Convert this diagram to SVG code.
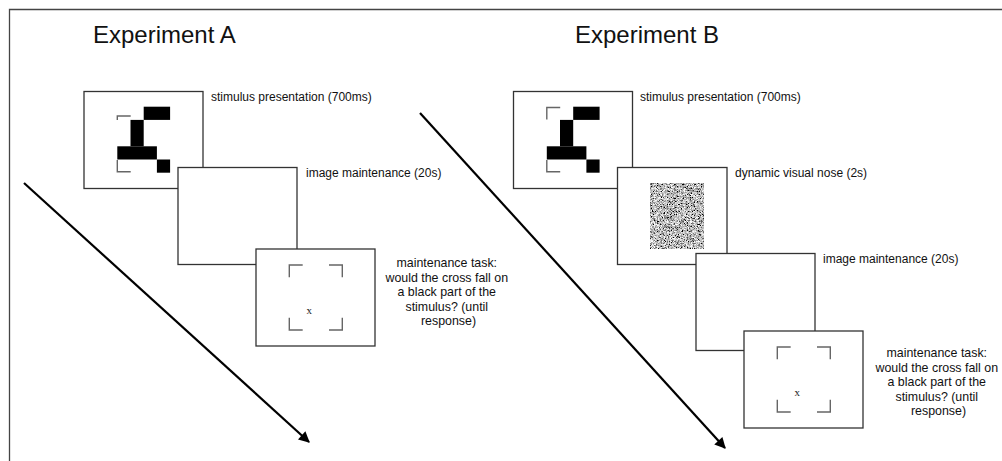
<svg xmlns="http://www.w3.org/2000/svg" width="1002" height="461" viewBox="0 0 1002 461">
<style>
.frame{fill:#fff;stroke:#333;stroke-width:1.3}
.cell{fill:#000}
.br{fill:none;stroke:#666;stroke-width:1.4}
.lbl{font-family:"Liberation Sans",Arial,sans-serif;font-size:12px;fill:#111}
.multi{font-family:"Liberation Sans",Arial,sans-serif;font-size:12.4px;fill:#111;text-anchor:middle}
.ttl{font-family:"Liberation Sans",Arial,sans-serif;font-size:24px;fill:#111}
.x{font-family:"Liberation Serif","Times New Roman",serif;font-size:11px;fill:#222;text-anchor:middle}
.arrow{stroke:#000;stroke-width:2.2;fill:none}
</style>
<defs>
<marker id="ah" viewBox="0 0 10 10" refX="9" refY="5" markerWidth="6" markerHeight="5" orient="auto" markerUnits="strokeWidth">
<path d="M0,0 L10,5 L0,10 z" fill="#000"/>
</marker>
<filter id="noise" x="0" y="0" width="1" height="1" filterUnits="objectBoundingBox">
<feTurbulence type="fractalNoise" baseFrequency="2.7" numOctaves="1" seed="7"/>
<feColorMatrix type="matrix" values="2.6 0 0 0 -0.8  2.6 0 0 0 -0.8  2.6 0 0 0 -0.8  0 0 0 0 1"/>
</filter>
<g id="cue">
<path class="br" d="M33.3,28.3 V16 H46.7"/>
<path class="br" d="M73,16 H86.3 V28.3"/>
<path class="br" d="M33.3,68.7 V81 H46.7"/>
<path class="br" d="M73,81 H86.3 V68.7"/>
<text class="x" x="53.3" y="65">x</text>
</g>
</defs>

<g id="border">
<path d="M9.5,461 V9.5 H1002" fill="none" stroke="#444" stroke-width="1.3"/>
</g>

<g id="titles">
<text class="ttl" x="93" y="43">Experiment A</text>
<text class="ttl" x="575" y="43">Experiment B</text>
</g>

<g id="connectors">
<line class="arrow" x1="24" y1="183" x2="309" y2="442" marker-end="url(#ah)"/>
<line class="arrow" x1="420" y1="113" x2="725" y2="448" marker-end="url(#ah)"/>
</g>

<g id="A1">
<rect class="frame" x="84" y="91.5" width="119" height="97"/>
<g transform="translate(84,91.5)">
<rect class="cell" x="59.7" y="15.2" width="26.4" height="13.2"/>
<rect class="cell" x="46.5" y="28.4" width="13.2" height="26.4"/>
<rect class="cell" x="33.3" y="54.8" width="39.6" height="13.2"/>
<rect class="cell" x="72.9" y="68" width="13.2" height="13.2"/>
<path class="br" d="M33.3,28.5 V24.5 H46.7"/>
<path class="br" d="M33.3,68.5 V80.2 H46.7"/>
</g>
<text class="lbl" x="211" y="101">stimulus presentation (700ms)</text>
</g>

<g id="A2">
<rect class="frame" x="178" y="167.5" width="119" height="97"/>
<text class="lbl" x="306" y="177">image maintenance (20s)</text>
</g>

<g id="A3">
<rect class="frame" x="256" y="249" width="119" height="97"/>
<use href="#cue" transform="translate(256,249)"/>
<text class="multi">
<tspan x="448.5" y="267">maintenance task:</tspan>
<tspan x="448.5" y="281.5">would the cross fall on</tspan>
<tspan x="448.5" y="296">a black part of the</tspan>
<tspan x="448.5" y="310.5">stimulus? (until</tspan>
<tspan x="448.5" y="325">response)</tspan>
</text>
</g>

<g id="B1">
<rect class="frame" x="513.5" y="91.5" width="119" height="97"/>
<g transform="translate(513.5,91.5)">
<rect class="cell" x="59.7" y="15.2" width="26.4" height="13.2"/>
<rect class="cell" x="46.5" y="28.4" width="13.2" height="26.4"/>
<rect class="cell" x="33.3" y="54.8" width="39.6" height="13.2"/>
<rect class="cell" x="72.9" y="68" width="13.2" height="13.2"/>
<path class="br" d="M33.3,28 V16 H46.7"/>
<path class="br" d="M33.3,68.5 V80.2 H46.7"/>
</g>
<text class="lbl" x="640" y="101">stimulus presentation (700ms)</text>
</g>

<g id="B2">
<rect class="frame" x="617.5" y="167.5" width="109.5" height="97"/>
<rect x="650" y="183" width="54" height="66" fill="#fff" filter="url(#noise)"/>
<text class="lbl" x="735" y="177">dynamic visual nose (2s)</text>
</g>

<g id="B3">
<rect class="frame" x="696" y="253.5" width="119" height="97"/>
<text class="lbl" x="823" y="263">image maintenance (20s)</text>
</g>

<g id="B4">
<rect class="frame" x="744" y="331" width="119" height="97"/>
<use href="#cue" transform="translate(744,331)"/>
<text class="multi">
<tspan x="938.5" y="357">maintenance task:</tspan>
<tspan x="938.5" y="371.5">would the cross fall on</tspan>
<tspan x="938.5" y="386">a black part of the</tspan>
<tspan x="938.5" y="400.5">stimulus? (until</tspan>
<tspan x="938.5" y="415">response)</tspan>
</text>
</g>
</svg>
